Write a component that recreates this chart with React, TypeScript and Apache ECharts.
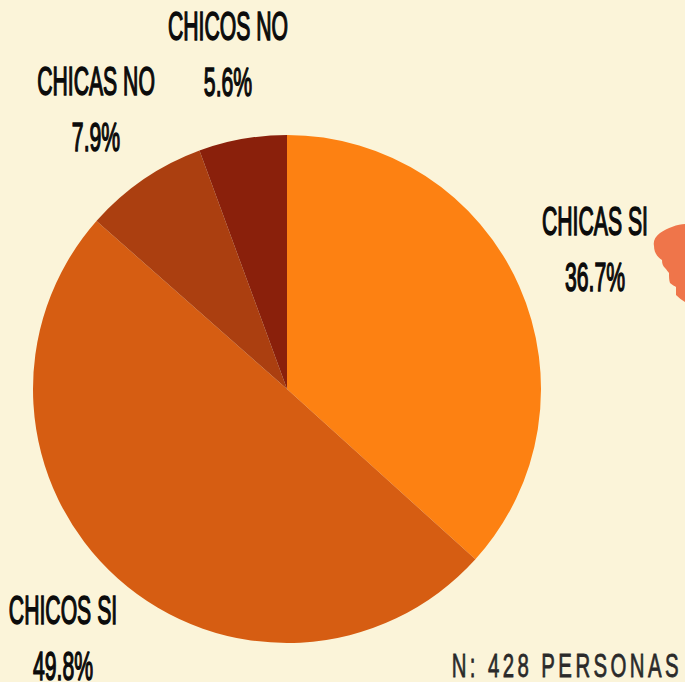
import React, { useEffect, useRef } from "react";
import * as echarts from "echarts";

const categories = ["CHICAS SI", "CHICOS SI", "CHICAS NO", "CHICOS NO"];
const values = [36.7, 49.8, 7.9, 5.6];
const colors = ["#FD8112", "#D65D12", "#AB3F10", "#8A200B"];
const footnote = "N: 428 PERSONAS";
const labelPositions = [
  [595, 221],
  [63, 610],
  [96, 81],
  [228, 26],
];
const LINE_GAP = 56;
const FONT = '"Liberation Sans", sans-serif';
const blob =
  "M45 9 C38 9 27 13 20 18 C15 22 13 26 14 31 C14 37 17 42 22 45 C22 49 23 51 25 53 C27 55 28 57 29 58 C29 62 29 65 30 68 C32 70 35 71 36 72 C36 75 36 78 36 80 C39 83 42 85 45 87 Z";
echarts.graphic.registerShape("blob", echarts.graphic.extendPath(blob, {}) as any);

const labelText = (text: string, x: number, y: number) => ({
  type: "text",
  x,
  y,
  scaleX: 0.53,
  silent: true,
  style: {
    text,
    font: `40px ${FONT}`,
    fill: "#0B0B0B",
    stroke: "#0B0B0B",
    lineWidth: 1.5,
    align: "center",
    verticalAlign: "middle",
  },
});

export default function App() {
  const ref = useRef<HTMLDivElement>(null);
  useEffect(() => {
    document.body.style.margin = "0";
    const chart = echarts.init(ref.current!, undefined, { renderer: "svg" });
    chart.setOption({
      animation: false,
      backgroundColor: "#FBF4D9",
      series: [
        {
          type: "pie",
          center: [287, 389],
          radius: [0, 254],
          startAngle: 90,
          clockwise: true,
          silent: true,
          data: categories.map((name, i) => ({ name, value: values[i], itemStyle: { color: colors[i] } })),
          label: { show: false },
          labelLine: { show: false },
        },
      ],
      graphic: [
        ...categories.flatMap((name, i) => [
          labelText(name, labelPositions[i][0], labelPositions[i][1]),
          labelText(`${values[i].toFixed(1)}%`, labelPositions[i][0], labelPositions[i][1] + LINE_GAP),
        ]),
        {
          type: "text",
          x: 682,
          y: 665,
          scaleX: 0.6,
          silent: true,
          style: {
            text: footnote,
            font: `34px ${FONT}`,
            fill: "#2A2A2A",
            stroke: "#2A2A2A",
            lineWidth: 0.8,
            align: "right",
            verticalAlign: "middle",
          },
        },
        { type: "blob", x: 640, y: 215, silent: true, style: { fill: "#EF754A" } },
      ],
    });
    ref.current!.querySelectorAll("text").forEach((t) => {
      if (t.textContent === footnote) t.setAttribute("letter-spacing", "5.7");
    });
    return () => chart.dispose();
  }, []);
  return <div ref={ref} style={{ width: 685, height: 682 }} />;
}
